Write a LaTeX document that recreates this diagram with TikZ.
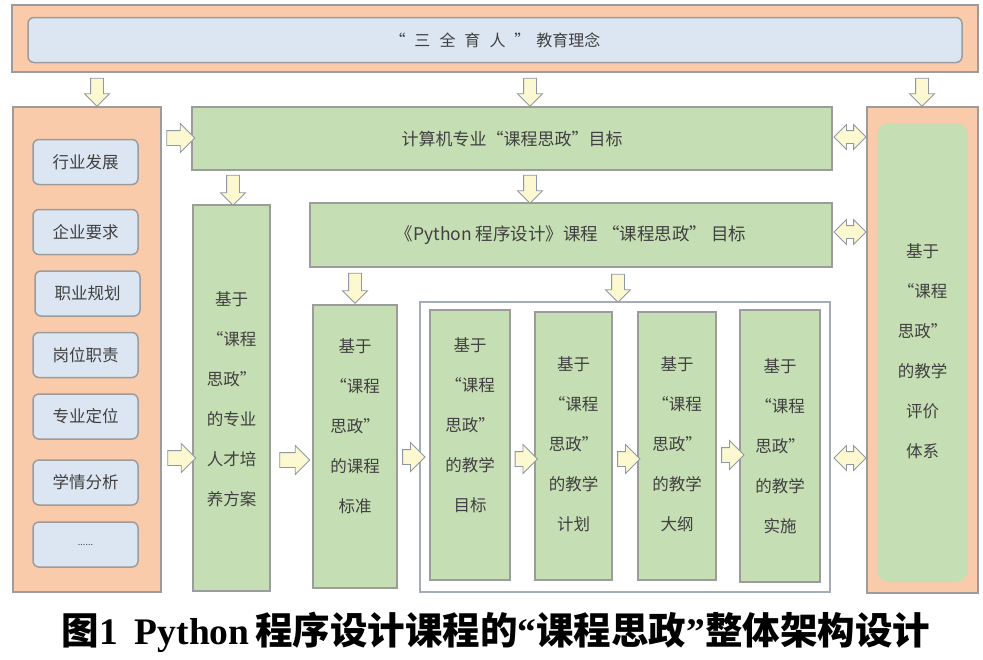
\documentclass[tikz,border=0pt]{standalone}
\usepackage{fontspec}
\setmainfont{Noto Sans CJK SC}
\newfontfamily\capserif{Liberation Serif}
\usetikzlibrary{shapes.arrows}

\definecolor{peach}{HTML}{F9CBAA}
\definecolor{paleblue}{HTML}{DCE6F2}
\definecolor{sage}{HTML}{C6DEB4}
\definecolor{edgegray}{HTML}{9C9C9C}
\definecolor{arrowedge}{HTML}{9098A4}
\definecolor{arrowfill}{HTML}{FCF8CF}
\definecolor{ink}{HTML}{404040}

\begin{document}
\begin{tikzpicture}[x=1pt,y=-1pt,
    outerbox/.style={draw=edgegray,fill=peach,line width=1.5pt,inner sep=0pt},
    bluebox/.style={draw=edgegray,fill=paleblue,line width=1.5pt,rounded corners=6pt,text=ink},
    itembox/.style={bluebox,minimum width=105pt,minimum height=45pt,font=\fontsize{16.5}{20}\selectfont},
    greenbox/.style={draw=edgegray,fill=sage,line width=1.5pt,inner sep=0pt,text=ink},
    vtext/.style={align=center,text=ink,font=\fontsize{16.5}{40}\selectfont},
    downarr/.style={single arrow,draw=arrowedge,fill=arrowfill,line width=0.9pt,inner sep=6pt,
      single arrow head extend=6pt,minimum height=28pt,shape border rotate=270},
    rightarr/.style={single arrow,draw=arrowedge,fill=arrowfill,line width=0.9pt,inner sep=7pt,
      single arrow head extend=7pt,minimum height=28pt},
    twoarr/.style={double arrow,draw=arrowedge,fill=arrowfill,line width=0.9pt,inner sep=6pt,
      double arrow head extend=6pt,minimum height=32pt}
  ]
  \useasboundingbox (0,0) rectangle (983,659);

  % top banner
  \node[outerbox,minimum width=966pt,minimum height=67pt] (banner) at (495,38.5) {};
  \node[bluebox,minimum width=934pt,minimum height=45pt,font=\fontsize{16}{18}\selectfont] (idea) at (495,40)
    {“\hspace{9pt}三\hspace{9pt}全\hspace{9pt}育\hspace{9pt}人\hspace{9pt}”\hspace{6pt}教育理念};

  % left column
  \node[outerbox,minimum width=148pt,minimum height=485pt] (factors) at (87,349.5) {};
  \node[itembox] (f1) at (85.5,162) {行业发展};
  \node[itembox] (f2) at (85.5,232) {企业要求};
  \node[itembox] (f3) at (87.5,293.5) {职业规划};
  \node[itembox] (f4) at (85.5,355) {岗位职责};
  \node[itembox] (f5) at (85.5,416.5) {专业定位};
  \node[itembox] (f6) at (85.5,482.5) {学情分析};
  \node[itembox,font=\fontsize{9}{10}\selectfont] (f7) at (85.5,544.5) {......};

  % right column
  \node[outerbox,minimum width=111pt,minimum height=486pt] (evalout) at (922.5,350) {};
  \node[fill=sage,rounded corners=12pt,minimum width=91pt,minimum height=459pt] (evalin) at (922.5,352.5) {};
  \node[vtext] (evalt) at (922.5,351.5) {基于\\“课程\\思政”\\的教学\\评价\\体系};

  % goals
  \node[greenbox,minimum width=640pt,minimum height=63pt,font=\fontsize{17}{20}\selectfont] (goal1) at (512,138.5)
    {计算机专业“课程思政”目标};
  \node[greenbox,minimum width=522pt,minimum height=64pt,font=\fontsize{17.5}{20}\selectfont] (goal2) at (571,235)
    {《Python 程序设计》课程 “课程思政” 目标};

  % vertical boxes
  \node[greenbox,minimum width=77pt,minimum height=386pt] (talent) at (231.5,398) {};
  \node[vtext] (talentt) at (231.5,399) {基于\\“课程\\思政”\\的专业\\人才培\\养方案};
  \node[greenbox,minimum width=84pt,minimum height=283pt] (std) at (355,446.5) {};
  \node[vtext] (stdt) at (355,426) {基于\\“课程\\思政”\\的课程\\标准};

  \node[draw=arrowedge!80,fill=white,line width=1.5pt,minimum width=410pt,minimum height=290pt] (teach) at (625,447) {};
  \node[greenbox,minimum width=80pt,minimum height=270pt] (obj) at (470,445) {};
  \node[vtext] (objt) at (470,425) {基于\\“课程\\思政”\\的教学\\目标};
  \node[greenbox,minimum width=77pt,minimum height=268pt] (plan) at (573.5,446) {};
  \node[vtext] (plant) at (573.5,444) {基于\\“课程\\思政”\\的教学\\计划};
  \node[greenbox,minimum width=78pt,minimum height=268pt] (outline) at (677,446) {};
  \node[vtext] (outlinet) at (677,444) {基于\\“课程\\思政”\\的教学\\大纲};
  \node[greenbox,minimum width=80pt,minimum height=272pt] (impl) at (780,446) {};
  \node[vtext] (implt) at (780,446) {基于\\“课程\\思政”\\的教学\\实施};

  % block arrows
  \node[downarr] (d1) at (97,89) {};
  \node[downarr] (d2) at (530,89) {};
  \node[downarr] (d3) at (922,89) {};
  \node[downarr,minimum height=30pt] (d4) at (233,187) {};
  \node[downarr] (d5) at (530,186) {};
  \node[downarr,minimum height=30pt] (d6) at (355,285) {};
  \node[downarr] (d7) at (618,285) {};

  \node[rightarr] (r1) at (177,138) {};
  \node[rightarr] (r2) at (178,458) {};
  \node[rightarr,minimum height=30pt] (r3) at (291,460) {};
  \node[rightarr,minimum height=20pt] (r4) at (410,457) {};
  \node[rightarr,minimum height=21pt] (r5) at (522.5,459) {};
  \node[rightarr,minimum height=22pt] (r6) at (625,459) {};
  \node[rightarr,minimum height=22pt] (r7) at (729,455) {};

  \node[twoarr] (b1) at (850,137) {};
  \node[twoarr] (b2) at (850,232) {};
  \node[twoarr] (b3) at (850,458) {};

  % caption
  \node[font=\fontsize{37.5}{40}\selectfont\bfseries] (caption) at (496,632)
    {图{\capserif 1\hspace{0.45em}Python}\hspace{0.15em}程序设计课程的{\capserif “}课程思政{\capserif ”}整体架构设计};
\end{tikzpicture}
\end{document}
